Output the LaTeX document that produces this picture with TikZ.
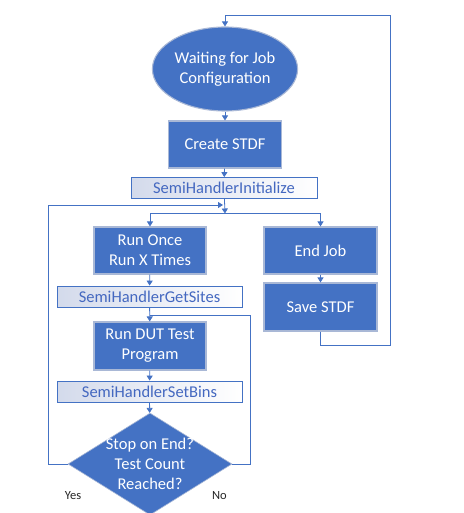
\documentclass[tikz,border=0pt]{standalone}
\usepackage{fontspec}
\setmainfont{Carlito}
\usetikzlibrary{shapes.geometric,arrows.meta}
\definecolor{officeblue}{HTML}{4472C4}
\definecolor{boxline}{HTML}{A9B8D6}
\definecolor{calltext}{HTML}{4468C0}
\definecolor{callshade}{HTML}{D3DAEB}
\begin{document}
\begin{tikzpicture}[x=1pt,y=-1pt,
	stepbox/.style={rectangle,fill=officeblue,draw=boxline,line width=1.1pt,text=white,align=center,inner sep=1pt,minimum width=113pt,minimum height=47pt,font=\fontsize{16.5}{20}\selectfont},
	callbox/.style={rectangle,draw=officeblue,line width=0.8pt,left color=callshade,right color=white,text=calltext,inner sep=0pt,minimum width=186pt,minimum height=21pt,font=\fontsize{16.5}{20}\selectfont},
	flow/.style={draw=officeblue,line width=0.8pt,-{Triangle[length=5pt,width=6pt]}},
	plain/.style={draw=officeblue,line width=0.8pt}]
				\useasboundingbox (0,0) rectangle (463,513);
				
				\node (v1) at (225,69) [stepbox,ellipse,minimum width=141pt,minimum height=84pt] {Waiting for Job\\Configuration};
				\node (v2) at (225,144.5) [stepbox] {Create STDF};
				\node (v3) at (224,188) [callbox] {SemiHandlerInitialize};
				\node (v4) at (150,250.5) [stepbox,minimum width=112pt] {Run Once\\Run X Times};
				\node (v5) at (320.5,250.5) [stepbox] {End Job};
				\node (v6) at (320.5,307) [stepbox,minimum height=48pt] {Save STDF};
				\node (v7) at (149.5,296.5) [callbox,minimum width=185pt] {SemiHandlerGetSites};
				\node (v8) at (150,346) [stepbox,minimum width=112pt,minimum height=48pt] {Run DUT Test\\Program};
				\node (v9) at (149.5,391.5) [callbox,minimum width=185pt] {SemiHandlerSetBins};
				\node (v10) at (150,464) [diamond,fill=officeblue,draw=boxline,line width=0.6pt,inner sep=0pt,minimum width=164pt,minimum height=102pt] {};
				\node (v11) at (v10) [text=white,align=center,font=\fontsize{16.5}{20}\selectfont] {Stop on End?\\Test Count\\Reached?};
				\node (v12) at (73,496) [text=black!85,font=\fontsize{12.5}{14}\selectfont] {Yes};
				\node (v13) at (219.5,496) [text=black!85,font=\fontsize{12.5}{14}\selectfont] {No};
				
				\coordinate (c1) at (225,15);
				\coordinate (c2) at (390.5,15);
				\coordinate (c3) at (390.5,345);
				\coordinate (c4) at (320.5,345);
				\coordinate (c5) at (225,213.5);
				\coordinate (c6) at (150,213.5);
				\coordinate (c7) at (320.5,213.5);
				\coordinate (c8) at (48,464);
				\coordinate (c9) at (48,205);
				\coordinate (c10) at (223,205);
				\coordinate (c11) at (250,464);
				\coordinate (c12) at (250,315);
				\coordinate (c13) at (150,315);
				
				\draw [flow] (v1) -- (v2);
				\draw [flow] (v2) -- (v3);
				\draw [flow] (v3) -- (c5);
				\draw [flow] (c5) -- (c6) -- (v4);
				\draw [flow] (c5) -- (c7) -- (v5);
				\draw [flow] (v5) -- (v6);
				\draw [flow] (v6) -- (c4) -- (c3) -- (c2) -- (c1) -- (v1);
				\draw [flow] (v4) -- (v7);
				\draw [flow] (v7) -- (v8);
				\draw [flow] (v8) -- (v9);
				\draw [flow] (v9) -- (v10);
				\draw [flow] (v10.west) -- (c8) -- (c9) -- (c10);
				\draw [plain] (v10.east) -- (c11) -- (c12) -- (c13);
\end{tikzpicture}
\end{document}
